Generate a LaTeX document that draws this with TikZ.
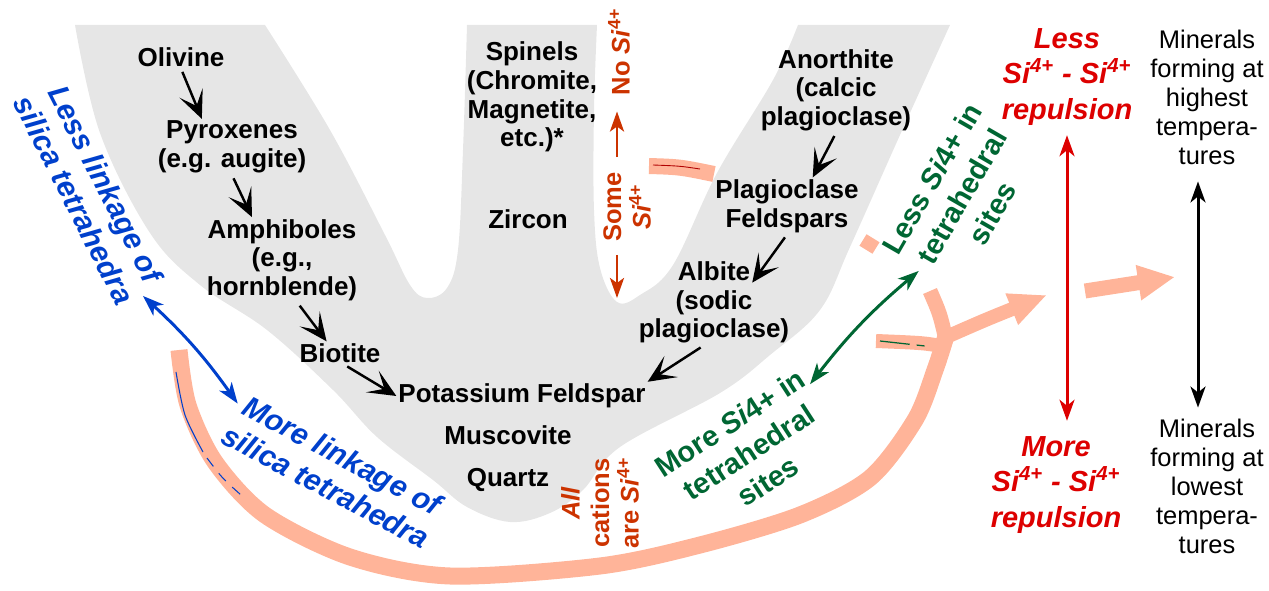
\documentclass[tikz,border=0pt]{standalone}
\usepackage{fontspec}
\setmainfont{Liberation Sans}
\usepackage{tikz}
\usetikzlibrary{arrows.meta,calc}
\definecolor{grisFond}{RGB}{230,230,230}
\definecolor{saumon}{RGB}{255,180,153}
\definecolor{bleuLien}{RGB}{0,64,204}
\definecolor{vertSite}{RGB}{0,102,51}
\definecolor{rougeRep}{RGB}{221,0,0}
\definecolor{orangeSi}{RGB}{204,51,0}
\newcommand{\SiQuatre}{\textit{Si}\textsuperscript{4+}}

\tikzset{
  mineral/.style={align=center, inner sep=1pt, font=\fontsize{14.8}{16.3}\selectfont\bfseries},
  bluetext/.style={align=center, inner sep=1pt, text=bleuLien, font=\fontsize{17}{20}\selectfont\bfseries\itshape},
  greentext/.style={align=center, inner sep=1pt, text=vertSite, font=\fontsize{16.5}{19.8}\selectfont\bfseries},
  orangetext/.style={align=center, inner sep=1pt, text=orangeSi, font=\fontsize{14.5}{16.8}\selectfont\bfseries},
  redtext/.style={align=center, inner sep=1pt, text=rougeRep, font=\fontsize{16.5}{20}\selectfont\bfseries\itshape},
  tempnote/.style={align=center, inner sep=1pt, font=\fontsize{14.5}{16.5}\selectfont},
  blkarrow/.style={line width=1.4pt, -{Stealth[length=0.56cm, width=0.5cm, inset=0.28cm]}, shorten <=2pt},
  colarrow/.style={line width=1.7pt, {Stealth[length=0.42cm, width=0.3cm, inset=0.12cm]}-{Stealth[length=0.42cm, width=0.3cm, inset=0.12cm]}},
  bande/.style={saumon, line width=0.34cm}
}

\begin{document}
\begin{tikzpicture}[x=0.02cm, y=-0.02cm]
\useasboundingbox (0,0) rectangle (1269,591);

% Fond gris
\fill[grisFond] (75,25) -- (265,25)
  -- plot[smooth, tension=0.6] coordinates {(265,25) (330,130) (385,235) (410,285) (427,298) (447,288) (458,250) (463,150) (467,25)}
  -- (597,25)
  -- plot[smooth, tension=0.6] coordinates {(597,25) (594,110) (594,210) (600,268) (617,302) (640,295) (673,265) (717,173) (773,80) (798,25)}
  -- (950,25)
  -- plot[smooth, tension=0.6] coordinates {(950,25) (900,135) (850,247) (820,310) (770,355) (720,393) (620,447) (583,490) (550,513) (510,522) (467,507) (433,480) (377,437) (333,390) (267,330) (200,285) (150,233) (100,133) (75,25)}
  -- cycle;

% Bande saumon
\draw[bande] plot[smooth] coordinates {(179,350) (188,405) (215,462) (265,515) (350,557) (450,576) (600,566) (700,545) (800,515) (870,478) (915,420) (935,370) (946,336)};
\draw[bande, line width=0.3cm] (946,340) .. controls (940,314) .. (930,291);
\draw[bande, line width=0.28cm] (946,347) .. controls (925,343) .. (876,341);
\draw[bande, line width=0.28cm, -{Triangle[length=0.76cm, width=0.62cm]}] (944,338) .. controls (985,320) .. (1047,295);
\draw[bande, line width=0.3cm, -{Triangle[length=0.74cm, width=0.66cm]}] (1085,291) -- (1175,277);
\draw[bande, line width=0.32cm] (649,166) .. controls (680,167) .. (714,174);
\draw[bande, line width=0.27cm] (863,240) -- (876,248);

% Traits fins
\draw[bleuLien, line width=0.6pt] plot[smooth] coordinates {(176,372) (185,415) (203,452)};
\draw[bleuLien, line width=0.6pt, dash pattern=on 6pt off 5pt] (207,458) .. controls (222,478) .. (241,495);
\draw[vertSite, line width=0.7pt, dash pattern=on 17pt off 4pt on 4.5pt off 20pt] (880,341) -- (925,346);
\draw[rougeRep!80!black, line width=0.5pt] (653,165) .. controls (680,166) .. (700,169);

% Mineraux
\node[mineral] (olivine) at (181,57) {Olivine};
\node[mineral] (pyroxenes) at (232,147) {Pyroxenes\\(e.g. augite)};
\node[mineral] (amphiboles) at (282,260) {Amphiboles\\(e.g.,\\hornblende)};
\node[mineral] (biotite) at (340,353) {Biotite};
\node[mineral] (kfeldspar) at (522,396) {Potassium Feldspar};
\node[mineral] (muscovite) at (508,435) {Muscovite};
\node[mineral] (quartz) at (508,480) {Quartz};
\node[mineral] (spinels) at (532,97) {Spinels\\(Chromite,\\Magnetite,\\etc.)*};
\node[mineral] (zircon) at (528,219) {Zircon};
\node[mineral] (anorthite) at (836,90) {Anorthite\\(calcic\\plagioclase)};
\node[mineral] (plagioclase) at (787,206) {Plagioclase\\Feldspars};
\node[mineral] (albite) at (714,271) {Albite};
\node[mineral] (sodic) at (714,317) {(sodic\\plagioclase)};

% Fleches des series
\draw[blkarrow] (olivine.south) -- (pyroxenes.137);
\draw[blkarrow] (pyroxenes.south) -- (amphiboles.125);
\draw[blkarrow] (amphiboles.290) -- (biotite.139);
\draw[blkarrow] (biotite.290) -- (kfeldspar.west);
\draw[blkarrow] (anorthite.south) -- (plagioclase.48);
\draw[blkarrow] (plagioclase.south) -- (albite.south east);
\draw[blkarrow] (sodic.250) -- (kfeldspar.north east);

% Textes tournes
\node[bluetext, rotate=-63] (blueless) at (90,192) {Less linkage of\\silica tetrahedra};
\node[bluetext, rotate=-28] (bluemore) at (334,471) {More linkage of\\silica tetrahedra};
\node[greentext, rotate=60] (greenless) at (962,196) {Less \textit{Si}4+ in\\tetrahedral\\sites};
\node[greentext, rotate=33] (greenmore) at (749,452) {More \textit{Si}4+ in\\tetrahedral\\sites};
\node[orangetext, rotate=90] (nosi) at (619,52) {No \SiQuatre};
\node[orangetext, rotate=90] (somesi) at (627,207) {Some\\\SiQuatre};
\node[orangetext, rotate=90] (allsi) at (600,503) {\textit{All}\\cations\\are \SiQuatre};
\coordinate (gapfond) at (617,298);

% Colonne de droite
\node[redtext] (redless) at (1067,77) {Less\\\SiQuatre\ - \SiQuatre\\repulsion};
\node[redtext] (redmore) at (1056,485) {More\\\SiQuatre\ - \SiQuatre\\repulsion};
\node[tempnote] (hightemp) at (1207,97) {Minerals\\forming at\\highest\\tempera-\\tures};
\node[tempnote] (lowtemp) at (1207,486) {Minerals\\forming at\\lowest\\tempera-\\tures};

% Doubles fleches
\draw[colarrow, bleuLien] (blueless.east) to[bend left=6] (bluemore.173);
\draw[colarrow, vertSite] (greenmore.15) to[bend left=6] (greenless.west);
\draw[colarrow, rougeRep, shorten <=0.16cm, shorten >=0.28cm] (redless.south) -- (redless.south |- redmore.north);
\draw[colarrow, black, shorten <=0.3cm, shorten >=0.18cm] ($(hightemp.south)+(-9,0)$) -- ($(lowtemp.north)+(-9,0)$);
\draw[line width=1.7pt, orangeSi, -{Stealth[length=0.4cm, width=0.28cm, inset=0.1cm]}, shorten <=0.26cm, shorten >=0.28cm] (somesi.east -| gapfond) -- (nosi.west -| gapfond);
\draw[line width=1.7pt, orangeSi, -{Stealth[length=0.4cm, width=0.28cm, inset=0.1cm]}, shorten <=0.22cm] (somesi.west -| gapfond) -- (gapfond);

\end{tikzpicture}
\end{document}
